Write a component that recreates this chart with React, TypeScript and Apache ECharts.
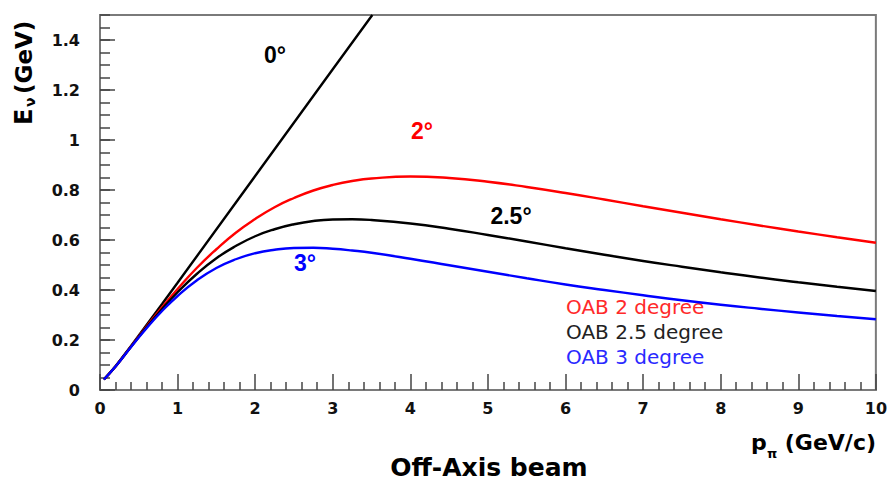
import React, { useEffect, useRef } from "react";
import * as echarts from "echarts";

// pion momentum (GeV/c) sample points for the off-axis curves
const momentum = [0.05, 0.2, 0.4, 0.6, 0.8, 1, 1.25, 1.5, 1.75, 2, 2.25, 2.5, 2.75, 3, 3.25, 3.5, 4, 4.5, 5, 5.5, 6, 6.5, 7, 7.5, 8, 8.5, 9, 9.5, 10];
// neutrino energy (GeV)
const energy2deg = [0.042, 0.094, 0.174, 0.254, 0.331, 0.404, 0.489, 0.563, 0.629, 0.684, 0.731, 0.768, 0.798, 0.82, 0.836, 0.846, 0.854, 0.848, 0.833, 0.812, 0.788, 0.762, 0.735, 0.709, 0.683, 0.658, 0.634, 0.611, 0.589];
const energy25deg = [0.042, 0.094, 0.173, 0.251, 0.324, 0.391, 0.465, 0.527, 0.576, 0.615, 0.643, 0.663, 0.676, 0.682, 0.683, 0.68, 0.666, 0.645, 0.62, 0.594, 0.567, 0.541, 0.516, 0.493, 0.471, 0.45, 0.431, 0.413, 0.396];
const energy3deg = [0.042, 0.094, 0.172, 0.247, 0.316, 0.376, 0.439, 0.488, 0.523, 0.547, 0.561, 0.568, 0.569, 0.565, 0.558, 0.549, 0.525, 0.499, 0.473, 0.447, 0.422, 0.4, 0.379, 0.359, 0.341, 0.325, 0.31, 0.296, 0.283];
// on-axis (0 degree) line
const momentum0deg = [0.05, 0.2, 0.4, 0.6, 0.8, 1, 2, 3, 3.51];
const energy0deg = [0.042, 0.095, 0.176, 0.26, 0.344, 0.429, 0.856, 1.283, 1.5];

const angleLabels = ["0°", "2°", "2.5°", "3°"];
const legendLabels = ["OAB 2 degree", "OAB 2.5 degree", "OAB 3 degree"];

const pair = (xs: number[], ys: number[]) => xs.map((x, i) => [x, ys[i]]);

const BOLD = "DejaVu Sans";

export default function App() {
  const ref = useRef<HTMLDivElement>(null);
  useEffect(() => {
    const chart = echarts.init(ref.current!, undefined, { renderer: "svg" });
    const lineSeries = (name: string, data: number[][], color: string, smooth: boolean) => ({
      name,
      type: "line",
      data,
      smooth,
      showSymbol: false,
      symbol: "none",
      lineStyle: { color, width: 2.4 },
      xAxisIndex: 0,
      yAxisIndex: 0,
    });
    const txt = (text: string, x: number, y: number, color: string, size: number, family: string, weight: string, align = "center", extra: any = {}) => ({
      type: "text",
      x,
      y,
      ...extra,
      style: { text, fill: color, fontSize: size, fontFamily: family, fontWeight: weight, align, verticalAlign: "middle" },
    });
    const option: any = {
      animation: false,
      backgroundColor: "#ffffff",
      grid: { left: 100, right: 14, top: 15, bottom: 90, show: true, borderColor: "#7a7a7a", borderWidth: 2, backgroundColor: "transparent" },
      xAxis: {
        type: "value",
        min: 0,
        max: 10,
        interval: 1,
        axisLine: { show: true, lineStyle: { color: "#7a7a7a", width: 2 } },
        axisTick: { show: true, inside: true, length: 16, lineStyle: { color: "#444", width: 1.5 } },
        minorTick: { show: true, splitNumber: 5, length: 8, lineStyle: { color: "#444", width: 1.5 } },
        splitLine: { show: false },
        axisLabel: { margin: 10, fontFamily: BOLD, fontWeight: "bold", fontSize: 16, color: "#111" },
      },
      yAxis: [
        {
          type: "value",
          min: 0,
          max: 1.5,
          interval: 0.2,
          position: "left",
          axisLine: { show: true, lineStyle: { color: "#7a7a7a", width: 2 } },
          axisTick: { show: true, inside: true, length: 15, lineStyle: { color: "#444", width: 1.5 } },
          splitLine: { show: false },
          axisLabel: { margin: 20, showMaxLabel: false, fontFamily: BOLD, fontWeight: "bold", fontSize: 16, color: "#111" },
        },
        {
          type: "value",
          min: 0,
          max: 1.5,
          interval: 0.05,
          position: "left",
          offset: 0,
          axisLine: { show: false },
          axisTick: { show: true, inside: true, length: 10, lineStyle: { color: "#444", width: 1.5 } },
          splitLine: { show: false },
          axisLabel: { show: false },
        },
      ],
      series: [
        lineSeries("0 degree", pair(momentum0deg, energy0deg), "#000000", false),
        lineSeries(legendLabels[0], pair(momentum, energy2deg), "#ff0000", true),
        lineSeries(legendLabels[1], pair(momentum, energy25deg), "#000000", true),
        lineSeries(legendLabels[2], pair(momentum, energy3deg), "#0000ff", true),
      ],
      graphic: [
        txt(angleLabels[0], 275, 55, "#000", 23, "Liberation Sans", "bold"),
        txt(angleLabels[1], 422, 131, "#ff0000", 23, "Liberation Sans", "bold"),
        txt(angleLabels[2], 511, 216, "#000", 23, "Liberation Sans", "bold"),
        txt(angleLabels[3], 305, 263, "#0000ff", 23, "Liberation Sans", "bold"),
        txt(legendLabels[0], 566, 307, "#ff2a2a", 20, "DejaVu Sans", "normal", "left"),
        txt(legendLabels[1], 566, 332, "#222222", 20, "DejaVu Sans", "normal", "left"),
        txt(legendLabels[2], 566, 357, "#2a2aff", 20, "DejaVu Sans", "normal", "left"),
        // x axis title
        txt("p", 751, 442, "#000", 22, BOLD, "bold", "left"),
        txt("π", 767, 453, "#000", 13, BOLD, "bold", "left"),
        txt("(GeV/c)", 876, 442, "#000", 22, BOLD, "bold", "right"),
        // y axis title (rotated)
        txt("E", 24, 125, "#000", 24, BOLD, "bold", "left", { rotation: Math.PI / 2 }),
        txt("ν", 30, 107, "#000", 14, BOLD, "bold", "left", { rotation: Math.PI / 2 }),
        txt("(GeV)", 24, 94, "#000", 23, BOLD, "bold", "left", { rotation: Math.PI / 2 }),
        // bottom caption
        txt("Off-Axis beam", 489, 467, "#000", 25, BOLD, "bold", "center"),
      ],
    };
    chart.setOption(option);
    return () => chart.dispose();
  }, []);
  return <div ref={ref} style={{ position: "absolute", left: 0, top: 0, width: 890, height: 480 }} />;
}
